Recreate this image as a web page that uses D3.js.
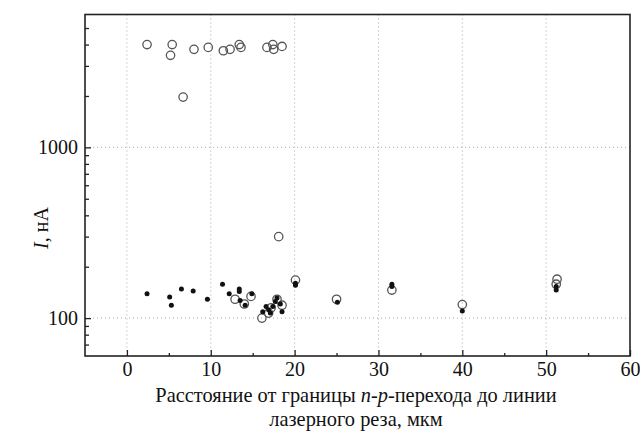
<!DOCTYPE html>
<html><head><meta charset="utf-8">
<script src="https://cdn.jsdelivr.net/npm/d3@7"></script>
<style>body{margin:0;background:#fff}svg{display:block}text{font-family:"Liberation Serif","Times New Roman",serif}</style>
</head><body>
<svg id="c" width="640" height="431"></svg>
<script>
// Data
const xTicks = [0, 10, 20, 30, 40, 50, 60];
const xMinor = [5, 15, 25, 35, 45, 55];
const yTicks = [100, 1000];
const yMinor = [70, 80, 90, 200, 300, 400, 500, 600, 700, 800, 900, 2000, 3000, 4000, 5000];
const gridX = [0, 10, 20, 30, 40, 50];
const openX = [2.4, 5.4, 5.2, 8.0, 9.7, 11.5, 12.3, 13.4, 13.6, 16.7, 17.4, 17.5, 18.5, 6.7, 18.1,
  12.9, 14.0, 14.8, 16.1, 16.9, 17.2, 17.9, 18.5, 20.1, 25.0, 31.6, 40.0, 51.3, 51.2];
const openY = [4000, 4000, 3460, 3750, 3850, 3680, 3750, 4000, 3850, 3850, 4000, 3750, 3900, 1970, 300,
  129, 121, 134, 100, 107, 115, 129, 119, 167, 129, 146, 120, 169, 158];
const filledX = [2.4, 5.1, 5.3, 6.5, 7.9, 9.6, 11.4, 12.2, 13.4, 13.4, 13.5, 14.1, 14.9, 16.2, 16.6, 16.9,
  17.1, 17.4, 17.7, 17.9, 18.3, 18.5, 20.1, 20.1, 25.1, 31.6, 31.6, 40.0, 51.2, 51.2];
const filledY = [139, 133, 119, 148, 144, 129, 158, 139, 148, 143, 127, 119, 139, 109, 117, 112,
  107, 117, 125, 131, 121, 109, 156, 160, 124, 158, 153, 110, 153, 146];

const L = 85, R = 630, T = 14.5, B = 356;
const svg = d3.select("#c");
const x = d3.scaleLinear().domain([-5, 60]).range([L, R]);
const y = d3.scaleLog().domain([60, 6000]).range([B, T]);
const font = '"Liberation Serif","Times New Roman",serif';

// grid
const g = svg.append("g");
g.selectAll(".gx").data(gridX).join("line")
  .attr("x1", d => x(d)).attr("x2", d => x(d)).attr("y1", T).attr("y2", B)
  .attr("stroke", "#aaa").attr("stroke-width", 1).attr("stroke-dasharray", "1,3");
g.selectAll(".gy").data(yTicks).join("line")
  .attr("x1", L).attr("x2", R).attr("y1", d => y(d)).attr("y2", d => y(d))
  .attr("stroke", "#aaa").attr("stroke-width", 1).attr("stroke-dasharray", "1,3");

// axes (inside ticks)
const xAx = svg.append("g").attr("transform", `translate(0,${B})`)
  .call(d3.axisBottom(x).tickValues(xTicks).tickSize(-6).tickPadding(6).tickFormat(d3.format("d")));
const xAxMin = svg.append("g").attr("transform", `translate(0,${B})`)
  .call(d3.axisBottom(x).tickValues(xMinor).tickSize(-3).tickFormat(""));
const yAx = svg.append("g").attr("transform", `translate(${L},0)`)
  .call(d3.axisLeft(y).tickValues(yTicks).tickSize(-6).tickPadding(7).tickFormat(d3.format("d")));
const yAxMin = svg.append("g").attr("transform", `translate(${L},0)`)
  .call(d3.axisLeft(y).tickValues(yMinor).tickSize(-4).tickFormat(""));
[xAx, xAxMin, yAx, yAxMin].forEach(a => {
  a.attr("font-family", null).attr("font-size", null);
  a.select(".domain").remove();
  a.selectAll("line").attr("stroke", "#222").attr("stroke-width", 1.3);
  a.selectAll("text").style("font-family", font).style("font-size", "20px").attr("fill", "#111");
});

// frame
svg.append("rect").attr("x", L).attr("y", T).attr("width", R - L).attr("height", B - T)
  .attr("fill", "none").attr("stroke", "#222").attr("stroke-width", 1.6);

// points
const openData = openX.map((v, i) => [v, openY[i]]);
const filledData = filledX.map((v, i) => [v, filledY[i]]);
svg.append("g").selectAll("circle").data(openData).join("circle")
  .attr("cx", d => x(d[0])).attr("cy", d => y(d[1])).attr("r", 4.2)
  .attr("fill", "none").attr("stroke", "#555").attr("stroke-width", 1.3);
svg.append("g").selectAll("circle").data(filledData).join("circle")
  .attr("cx", d => x(d[0])).attr("cy", d => y(d[1])).attr("r", 2.5)
  .attr("fill", "#111");

// labels
const yl = svg.append("text").attr("transform", `translate(48,228) rotate(-90)`)
  .style("font-family", font).style("font-size", "20px").attr("fill", "#111").attr("text-anchor", "middle");
yl.append("tspan").attr("font-style", "italic").text("I");
yl.append("tspan").text(", нА");

const xl1 = svg.append("text").attr("x", 356).attr("y", 402)
  .style("font-family", font).style("font-size", "20.4px").attr("fill", "#111").attr("text-anchor", "middle");
xl1.append("tspan").text("Расстояние от границы ");
xl1.append("tspan").attr("font-style", "italic").text("n");
xl1.append("tspan").text("-");
xl1.append("tspan").attr("font-style", "italic").text("p");
xl1.append("tspan").text("-перехода до линии");
svg.append("text").attr("x", 356).attr("y", 426)
  .style("font-family", font).style("font-size", "20.4px").attr("fill", "#111").attr("text-anchor", "middle")
  .text("лазерного реза, мкм");
</script>
</body></html>
